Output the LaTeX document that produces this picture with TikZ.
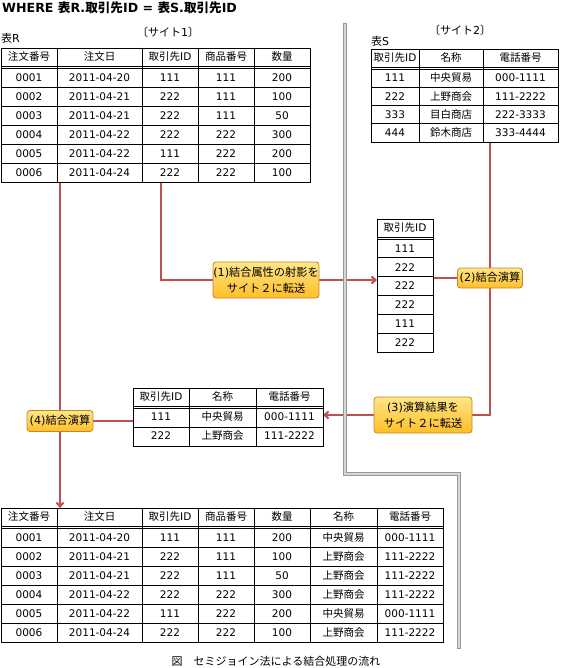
\documentclass[tikz,border=0pt]{standalone}
\usepackage{fontspec}
\setmainfont{DejaVu Sans}
\newfontfamily\jpfont{Noto Sans CJK JP}
\newcommand\ja[1]{{\jpfont #1}}
\usetikzlibrary{arrows.meta,calc,backgrounds}

\definecolor{linkred}{RGB}{192,80,77}
\definecolor{optop}{RGB}{255,230,135}
\definecolor{opbot}{RGB}{255,190,40}
\definecolor{opedge}{RGB}{195,135,35}
\definecolor{divout}{RGB}{150,152,156}
\definecolor{divin}{RGB}{212,214,216}

\begin{document}
\begin{tikzpicture}[
    x=1pt, y=-1pt,
    >={Straight Barb[length=4pt,width=7pt]},
    cell/.style={
        font=\fontsize{10.5}{12}\selectfont,
        inner sep=0pt,
        text height=8pt,
        text depth=0.3pt
    },
    frame/.style={
        rectangle,
        draw=black,
        line width=0.9pt,
        inner sep=0pt,
        outer sep=0pt,
        anchor=north west
    },
    rule/.style={draw=black, line width=0.9pt},
    link/.style={draw=linkred, line width=2pt},
    op/.style={
        rectangle,
        rounded corners=3pt,
        draw=opedge,
        line width=0.8pt,
        top color=optop,
        bottom color=opbot,
        font=\fontsize{11.2}{16}\selectfont,
        align=center,
        inner sep=0pt
    },
    label text/.style={font=\fontsize{11}{13}\selectfont, inner sep=0pt}
]
\useasboundingbox (0,0) rectangle (561,668);

% Title and site labels
\node[font=\fontsize{12.6}{14}\selectfont\bfseries, anchor=west, inner sep=0pt] (title) at (2,8)
    {WHERE \ja{表}R.\ja{取引先}ID = \ja{表}S.\ja{取引先}ID};
\node[label text] (site1) at (168,32) {\ja{〔サイト}1\ja{〕}};
\node[label text] (site2) at (460,30) {\ja{〔サイト}2\ja{〕}};
\node[label text, anchor=west] (nameR) at (1,38) {\ja{表}R};
\node[label text, anchor=west] (nameS) at (371,41) {\ja{表}S};

% Table R (site 1)
\node[frame, minimum width=309, minimum height=134] (tR) at (1,48) {};
\foreach \x in {57,142,198,254} \draw[rule] (\x,48) -- (\x,182);
\foreach \y in {66,68.2,87,106,125,144,163} \draw[rule] (1,\y) -- (310,\y);
\foreach \cx/\t [count=\i] in {29/\ja{注文番号}, 99.5/\ja{注文日}, 170/\ja{取引先}ID, 226/\ja{商品番号}, 282/\ja{数量}}
    \node[cell] (rh\i) at (\cx,57) {\t};
\foreach \a/\b/\c/\d/\e [count=\r] in {
    0001/2011-04-20/111/111/200,
    0002/2011-04-21/222/111/100,
    0003/2011-04-21/222/111/50,
    0004/2011-04-22/222/222/300,
    0005/2011-04-22/111/222/200,
    0006/2011-04-24/222/222/100}{
    \node[cell] (r\r-1) at (29,58.5+19*\r)   {\a};
    \node[cell] (r\r-2) at (99.5,58.5+19*\r) {\b};
    \node[cell] (r\r-3) at (170,58.5+19*\r)  {\c};
    \node[cell] (r\r-4) at (226,58.5+19*\r)  {\d};
    \node[cell] (r\r-5) at (282,58.5+19*\r)  {\e};
}
\coordinate (rKey) at (161,182);

% Table S (site 2)
\node[frame, minimum width=187, minimum height=93] (tS) at (371,49) {};
\foreach \x in {419,483} \draw[rule] (\x,49) -- (\x,142);
\foreach \y in {67,69.2,87.25,105.5,123.75} \draw[rule] (371,\y) -- (558,\y);
\foreach \cx/\t [count=\i] in {395/\ja{取引先}ID, 451/\ja{名称}, 520.5/\ja{電話番号}}
    \node[cell] (sh\i) at (\cx,58) {\t};
\foreach \a/\b/\c [count=\r] in {
    111/\ja{中央貿易}/000-1111,
    222/\ja{上野商会}/111-2222,
    333/\ja{目白商店}/222-3333,
    444/\ja{鈴木商店}/333-4444}{
    \node[cell] (s\r-1) at (395,59.9+18.25*\r)   {\a};
    \node[cell] (s\r-2) at (451,59.9+18.25*\r)   {\b};
    \node[cell] (s\r-3) at (520.5,59.9+18.25*\r) {\c};
}

% Projected join attribute (sent to site 2)
\node[frame, minimum width=56, minimum height=133] (tP) at (377,219) {};
\foreach \y in {237,239.2,257.8,276.7,295.5,314.3,333.2} \draw[rule] (377,\y) -- (433,\y);
\node[cell] (ph) at (405,228) {\ja{取引先}ID};
\foreach \v [count=\r] in {111,222,222,222,111,222}
    \node[cell] (p\r) at (405,229.6+18.8*\r) {\v};

% Join result at site 2 (sent back)
\node[frame, minimum width=190, minimum height=58] (tQ) at (133,388) {};
\foreach \x in {189,256} \draw[rule] (\x,388) -- (\x,446);
\foreach \y in {406,408.2,427} \draw[rule] (133,\y) -- (323,\y);
\foreach \cx/\t [count=\i] in {161/\ja{取引先}ID, 222.5/\ja{名称}, 289.5/\ja{電話番号}}
    \node[cell] (qh\i) at (\cx,397) {\t};
\foreach \a/\b/\c [count=\r] in {
    111/\ja{中央貿易}/000-1111,
    222/\ja{上野商会}/111-2222}{
    \node[cell] (q\r-1) at (161,398+19*\r)   {\a};
    \node[cell] (q\r-2) at (222.5,398+19*\r) {\b};
    \node[cell] (q\r-3) at (289.5,398+19*\r) {\c};
}

% Final join result at site 1
\node[frame, minimum width=442, minimum height=134] (tB) at (1,508) {};
\foreach \x in {57,142,198,254,310,377} \draw[rule] (\x,508) -- (\x,642);
\foreach \y in {526,528.2,547,566,585,604,623} \draw[rule] (1,\y) -- (443,\y);
\foreach \cx/\t [count=\i] in {29/\ja{注文番号}, 99.5/\ja{注文日}, 170/\ja{取引先}ID, 226/\ja{商品番号}, 282/\ja{数量}, 343.5/\ja{名称}, 410/\ja{電話番号}}
    \node[cell] (bh\i) at (\cx,517) {\t};
\foreach \a/\b/\c/\d/\e/\f/\g [count=\r] in {
    0001/2011-04-20/111/111/200/\ja{中央貿易}/000-1111,
    0002/2011-04-21/222/111/100/\ja{上野商会}/111-2222,
    0003/2011-04-21/222/111/50/\ja{上野商会}/111-2222,
    0004/2011-04-22/222/222/300/\ja{上野商会}/111-2222,
    0005/2011-04-22/111/222/200/\ja{中央貿易}/000-1111,
    0006/2011-04-24/222/222/100/\ja{上野商会}/111-2222}{
    \node[cell] (b\r-1) at (29,518.5+19*\r)    {\a};
    \node[cell] (b\r-2) at (99.5,518.5+19*\r)  {\b};
    \node[cell] (b\r-3) at (170,518.5+19*\r)   {\c};
    \node[cell] (b\r-4) at (226,518.5+19*\r)   {\d};
    \node[cell] (b\r-5) at (282,518.5+19*\r)   {\e};
    \node[cell] (b\r-6) at (343.5,518.5+19*\r) {\f};
    \node[cell] (b\r-7) at (410,518.5+19*\r)   {\g};
}

% Caption
\node[font=\fontsize{11}{13}\selectfont, inner sep=0pt] (caption) at (276,661) {\ja{図　セミジョイン法による結合処理の流れ}};

% Operation boxes
\node[op, minimum width=106, minimum height=36] (op1) at (266,280)
    {(1)\ja{結合属性の射影を}\\\ja{サイト２に転送}};
\node[op, minimum width=65, minimum height=20] (op2) at (490,278) {(2)\ja{結合演算}};
\node[op, minimum width=98, minimum height=36] (op3) at (423,415)
    {(3)\ja{演算結果を}\\\ja{サイト２に転送}};
\node[op, minimum width=66, minimum height=21] (op4) at (60,421) {(4)\ja{結合演算}};

% Links and site boundary, kept behind the boxes
\begin{scope}[on background layer]
    \draw[link] (rKey) |- (op1.west);
    \draw[link,->] (op1.east) -- (op1.east -| tP.west);
    \draw[link] (tP.east |- op2) -- (op2.west);
    \draw[link] (tS.south -| op2) |- (op3.east);
    \draw[link,->] (op3.west) -- (op3.west -| tQ.east);
    \draw[link] (op4.east) -- (op4.east -| tQ.west);
    \draw[link,->] (tR.south -| op4) -- (tB.north -| op4);
    % boundary between site 1 and site 2
    \draw[divout, line width=4.5pt] (345,23) -- (345,474) -- (459,474) -- (459,649);
    \draw[divin, line width=1.8pt] (345,23.6) -- (345,474) -- (459,474) -- (459,648.4);
\end{scope}

\end{tikzpicture}
\end{document}
